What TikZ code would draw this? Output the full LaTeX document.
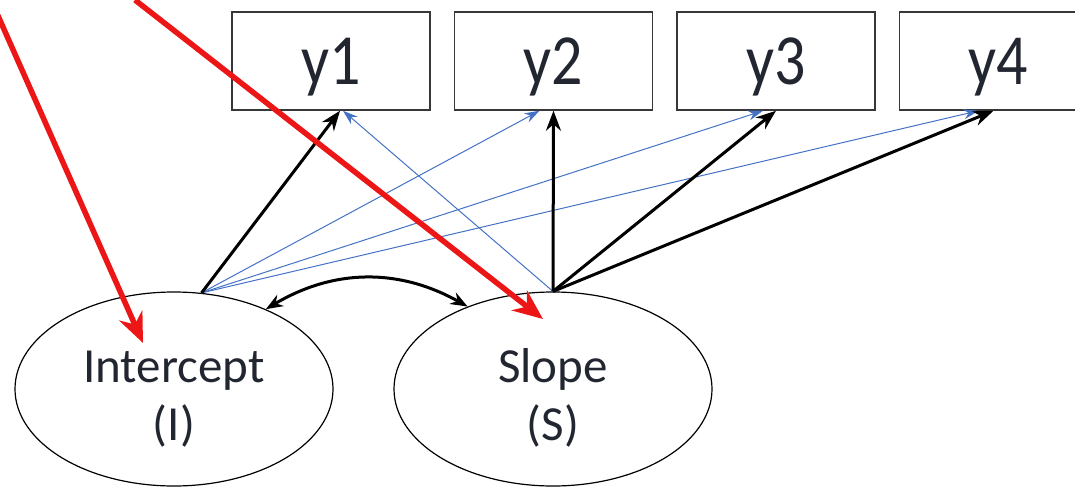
\documentclass[tikz,border=0pt]{standalone}
\usepackage{fontspec}
\setmainfont{Carlito}
\newfontfamily\boxfont{Carlito}[FakeStretch=0.86]
\usetikzlibrary{positioning,shapes.geometric,arrows.meta}
\definecolor{labelink}{RGB}{34,38,48}
\definecolor{framegray}{RGB}{55,55,55}
\definecolor{pathblue}{RGB}{68,114,196}
\definecolor{noteRed}{RGB}{236,22,22}

\begin{document}
\begin{tikzpicture}[x=1pt,y=-1pt,
		indicator/.style={draw=framegray,line width=1.5pt,minimum width=198pt,minimum height=98pt,inner sep=0pt,text depth=0pt,text=labelink,font=\boxfont\fontsize{72}{72}\selectfont},
		growth/.style={ellipse,draw,line width=1.2pt,minimum width=318pt,minimum height=194pt,align=center,text height=102pt,text depth=0pt,text=labelink,font=\fontsize{49}{58}\selectfont},
		loading/.style={line width=3pt,-{Stealth[length=20pt,width=15pt]}},
		fixedpath/.style={draw=pathblue,line width=1pt,-{Stealth[length=15pt,width=10pt]}},
		covar/.style={line width=3pt,{Stealth[length=17pt,width=13pt]}-{Stealth[length=17pt,width=13pt]}},
		pointer/.style={draw=noteRed,line width=5.5pt,-{Stealth[length=30pt,width=25pt]}}]
	\clip (0,0) rectangle (1075,487);
	\node[indicator] (y1) at (331,61) {y1};
	\node[indicator,right=23pt of y1] (y2) {y2};
	\node[indicator,right=23pt of y2] (y3) {y3};
	\node[indicator,right=23pt of y3] (y4) {y4};
	\node[growth] (I) at (174,389) {Intercept\\(I)};
	\node[growth] (S) at (553,389) {Slope\\(S)};
	\coordinate (markI) at (-9,0);
	\coordinate (markS) at (135,0);
	% fixed paths
	\path
	(I.74) edge[fixedpath] ([xshift=-14pt]y2.south)
	(I.74) edge[fixedpath] ([xshift=-13pt]y3.south)
	(I.74) edge[fixedpath] ([xshift=-20pt]y4.south)
	(S.north) edge[fixedpath] ([xshift=12pt]y1.south);
	% loadings
	\path
	(I.74) edge[loading] ([xshift=9pt]y1.south)
	(S.north) edge[loading] (y2.south)
	(S.north) edge[loading] (y3.south)
	(S.north) edge[loading] ([xshift=-5pt]y4.south)
	(I.41) edge[covar,bend left=30] (S.136);
	% pointers
	\path
	(markI) edge[pointer] ([shift={(-31,-46)}]I.center)
	(markS) edge[pointer] ([shift={(-10,-70)}]S.center);
\end{tikzpicture}
\end{document}
